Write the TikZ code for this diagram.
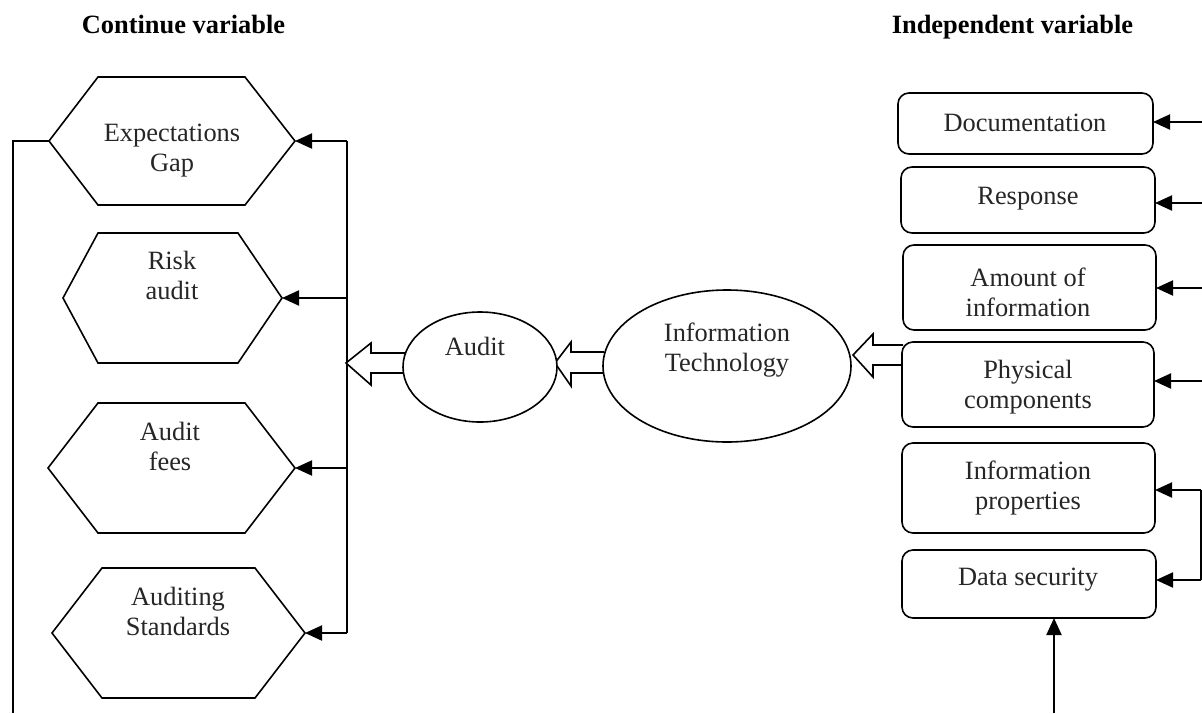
\documentclass[tikz,border=0pt]{standalone}
\usepackage{fontspec}
\setmainfont{Liberation Serif}
\usetikzlibrary{arrows.meta,calc}
\begin{document}
\begin{tikzpicture}[x=1pt,y=-1pt,
  every node/.style={font=\fontsize{26.4}{30}\selectfont, text=black!85},
  titletext/.style={font=\fontsize{26.4}{30}\selectfont\bfseries, text=black},
  shp/.style={draw=black, line width=1.6pt, fill=white},
  conn/.style={draw=black, line width=2pt, -{Triangle[length=17pt,width=15pt]}},
  plain/.style={draw=black, line width=1.7pt},
  rbox/.style={shp, rounded corners=11pt},
  txt/.style={align=center, inner sep=0pt}]
\useasboundingbox (0,0) rectangle (1202,713);
\fill[white] (0,0) rectangle (1202,713);

% titles
\node[titletext, anchor=base] (t1) at (183.5,33) {Continue variable};
\node[titletext, anchor=base] (t2) at (1012.5,33) {Independent variable};

% hexagons
\newcommand{\hexa}[7]{% name, left, right, top, bottom, topl, topr
  \coordinate (#1-w) at (#2,{(#4+#5)/2});
  \coordinate (#1-e) at (#3,{(#4+#5)/2});
  \path[shp] (#1-w) -- (#6,#4) -- (#7,#4) -- (#1-e) -- (#7,#5) -- (#6,#5) -- cycle;
}
\hexa{h1}{49}{295}{77}{205}{98}{245}
\hexa{h2}{63}{282}{233}{363}{98}{238}
\hexa{h3}{48}{295}{403}{533}{98}{245}
\hexa{h4}{52}{305}{568}{698}{102}{255}
\node[txt] (h1t) at (172,151) {Expectations\\Gap};
\node[txt] (h2t) at (172,275) {Risk\\audit};
\node[txt] (h3t) at (170,446) {Audit\\fees};
\node[txt] (h4t) at (178,611) {Auditing\\Standards};

% left line
\coordinate (lc1) at (13,141);
\coordinate (lc2) at (13,713);
\draw[plain] (h1-w) -- (lc1) -- (lc2);

% bus
\coordinate (b1) at (347,141);
\coordinate (b2) at (347,298);
\coordinate (b3) at (348,468);
\coordinate (b4) at (347,633);
\draw[plain] (b1) -- (b4);
\draw[conn] (b1) -- (h1-e);
\draw[conn] (b2) -- (h2-e);
\draw[conn] (b3) -- (h3-e);
\draw[conn] (b4) -- (h4-e);

% block arrows
\path[shp] (405,353) -- (371,353) -- (371,343) -- (346,363) -- (371,385) -- (371,373) -- (405,373);
\path[shp] (604,352) -- (571,352) -- (571,342) -- (555,363) -- (571,386) -- (571,373) -- (604,373);
\path[shp] (903,345) -- (873,345) -- (873,334) -- (853,355) -- (873,377) -- (873,365) -- (903,365);

% ellipses
\draw[shp] (480,367) ellipse [x radius=77, y radius=55];
\coordinate (aud) at (480,367);
\node[txt] (audt) at (475,346) {Audit};
\draw[shp] (727,366) ellipse [x radius=124, y radius=76];
\coordinate (it) at (727,366);
\node[txt] (itt) at (727,350) {Information\\Technology};

% right boxes
\newcommand{\rb}[5]{% name left right top bottom
  \path[rbox] (#2,#4) rectangle (#3,#5);
  \coordinate (#1-e) at (#3,{(#4+#5)/2});
}
\rb{r1}{898}{1153}{93}{154}
\rb{r2}{901}{1155}{167}{233}
\rb{r3}{903}{1156}{245}{330}
\rb{r4}{902}{1154}{342}{427}
\rb{r5}{902}{1155}{443}{533}
\rb{r6}{902}{1156}{550}{618}
\node[txt] (r1t) at (1025,123) {Documentation};
\node[txt] (r2t) at (1028,199) {Response};
\node[txt] (r3t) at (1028,292) {Amount of\\information};
\node[txt] (r4t) at (1028,387) {Physical\\components};
\node[txt] (r5t) at (1028,488) {Information\\properties};
\node[txt] (r6t) at (1028,580) {Data security};

% right arrows
\coordinate (e1) at (1202,122);
\coordinate (e2) at (1202,203);
\coordinate (e3) at (1202,288);
\coordinate (e4) at (1202,381);
\coordinate (e5) at (1201,490);
\coordinate (e6) at (1201,580);
\draw[conn] (e1) -- (r1-e |- e1);
\draw[conn] (e2) -- (r2-e |- e2);
\draw[conn] (e3) -- (r3-e |- e3);
\draw[conn] (e4) -- (r4-e |- e4);
\draw[plain, line width=1.2pt] (e5) -- (e6);
\draw[conn] (e5) -- (r5-e |- e5);
\draw[conn] (e6) -- (r6-e |- e6);

% bottom arrow
\coordinate (bt) at (1054,713);
\coordinate (r6b) at (1054,618);
\draw[conn] (bt) -- (r6b);
\end{tikzpicture}
\end{document}
